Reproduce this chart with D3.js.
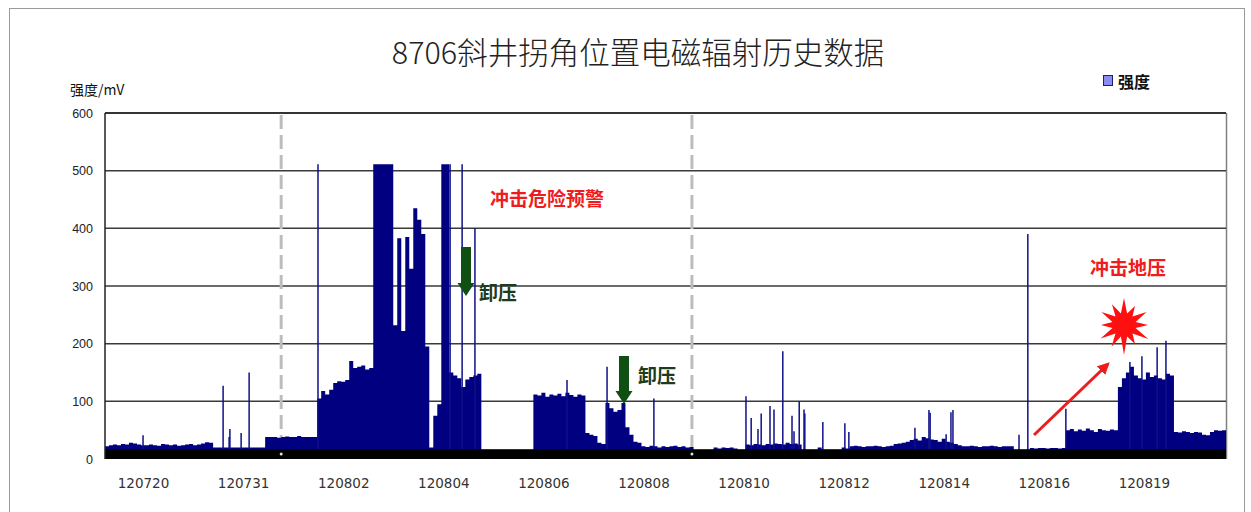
<!DOCTYPE html>
<html><head><meta charset="utf-8">
<script src="https://cdn.jsdelivr.net/npm/d3@7"></script>
<style>
html,body{margin:0;padding:0;background:#fff;}
svg{display:block;}
</style>
</head><body>
<svg id="chart" width="1251" height="512"></svg>
<script>
// ---- data ----
const title = "8706斜井拐角位置电磁辐射历史数据";
const seriesName = "强度";
const yTitle = "强度/mV";
const yTicks = [0, 100, 200, 300, 400, 500, 600];
const xLabels = ["120720","120731","120802","120804","120806","120808","120810","120812","120814","120816","120819"];
const xLabelIndex = [9.5, 34.5, 59.5, 84.5, 109.5, 134.5, 159.5, 184.5, 209.5, 234.5, 259.5];
const dividerIndex = [44, 146.6];
const baseBand = 17;
// intensity per sample (mV)
const intensity = [
  22,24,25,24,26,25,28,27,25,24,
  24,25,24,23,26,25,24,25,23,24,25,26,24,25,27,29,28,
  20,20,20,20,20,20,20,20,20,20,20,20,20,
  38,38,38,37,38,39,38,38,40,38,38,38,38,
  105,118,112,120,
  132,135,134,137,
  170,158,160,162,155,158,
  511,511,511,511,511,
  232,383,222,385,330,435,415,390,195,20,75,95,
  511,511,
  150,145,140,125,138,142,145,148,
  0,0,0,0,0,0,0,0,0,0,0,0,0,
  112,110,115,108,112,110,113,109,115,111,108,112,110,
  45,42,40,28,26,
  97,88,82,85,97,55,42,30,28,
  22,21,23,22,20,22,21,22,23,21,22,20,21,
  0,0,0,0,0,
  20,18,20,19,20,18,
  0,0,
  25,24,26,25,24,26,25,27,26,25,28,26,27,25,
  0,0,0,0,20,0,0,0,0,0,20,18,
  22,23,22,21,22,22,23,22,21,22,23,
  26,27,28,30,33,35,32,38,36,34,33,30,35,30,28,26,24,
  22,22,23,22,21,22,22,23,22,21,22,22,22,
  0,0,0,0,
  19,18,19,19,18,19,19,18,19,
  50,52,48,51,49,53,50,47,52,50,49,51,50,
  125,
  140,150,160,145,140,138,150,142,145,140,138,148,145,
  47,46,48,47,45,47,46,42,41,47,50,49,50
];
// isolated single-sample readings (sample index, mV)
const spikeIndex = [9.5,29.5,31.0,31.2,34.0,36.0,53.2,86.2,89.2,92.4,115.4,125.4,137.1,160.1,161.4,163.1,163.9,166.1,167.1,169.3,171.6,172.1,173.4,174.6,174.8,179.3,184.8,185.8,202.3,205.8,206.1,210.1,211.3,211.8,228.3,230.5,240.0,256.0,259.0,262.8,265.0];
const spikeValue = [41,127,38,52,45,150,511,511,511,400,137,160,105,109,71,52,79,92,86,187,75,48,100,86,79,64,62,47,54,85,80,43,81,85,42,390,87,168,178,194,205];

// ---- layout ----
const svg = d3.select("#chart");
const L = 105, R = 1226, T = 113, B = 459;
const x = d3.scaleLinear().domain([0, intensity.length]).range([L, R]);
const y = d3.scaleLinear().domain([0, 600]).range([B, T]);
const navy = "#000080";

// outer frame
svg.append("rect").attr("x", 9.5).attr("y", 8.5).attr("width", 1235).attr("height", 510)
  .attr("fill", "none").attr("stroke", "#9a9a9a").attr("stroke-width", 1);

// title
svg.append("text").attr("x", 638).attr("y", 64).attr("text-anchor", "middle")
  .attr("font-family", "'Noto Sans CJK SC', sans-serif").attr("font-size", 30.5).attr("font-weight", 300)
  .attr("fill", "#222").text(title);

// y title
svg.append("text").attr("x", 70).attr("y", 95)
  .attr("font-family", "'Noto Sans CJK SC', sans-serif").attr("font-size", 14)
  .attr("fill", "#111").text(yTitle);

// legend
svg.append("rect").attr("x", 1103.5).attr("y", 75.5).attr("width", 9).attr("height", 10)
  .attr("fill", "#8c8cf0").attr("stroke", "#1a1a80").attr("stroke-width", 1);
svg.append("text").attr("x", 1118).attr("y", 88)
  .attr("font-family", "'Noto Sans CJK SC', sans-serif").attr("font-size", 16).attr("font-weight", 700)
  .attr("fill", "#111").text(seriesName);

// plot border (right side)
svg.append("line").attr("x1", R + 0.5).attr("x2", R + 0.5).attr("y1", T).attr("y2", B)
  .attr("stroke", "#808080").attr("stroke-width", 1.5);

// grid
svg.append("g").selectAll("line").data(yTicks.filter(d => d > 0)).join("line")
  .attr("x1", L).attr("x2", R).attr("y1", d => y(d)).attr("y2", d => y(d))
  .attr("stroke", "#3a3a3a").attr("stroke-width", 1.5);

// dividers
svg.append("g").selectAll("line").data(dividerIndex).join("line")
  .attr("x1", d => x(d)).attr("x2", d => x(d)).attr("y1", T + 2).attr("y2", y(baseBand) + 2)
  .attr("stroke", "#bdbdbd").attr("stroke-width", 3).attr("stroke-dasharray", "14,6");

// bars as one stepped area (no seams)
const stepData = intensity.map((v, i) => [i, v]).concat([[intensity.length, intensity[intensity.length - 1]]]);
svg.append("path")
  .attr("d", d3.area().curve(d3.curveStepAfter).x(d => x(d[0])).y0(y(0)).y1(d => y(d[1]))(stepData))
  .attr("fill", navy);

// spikes
svg.append("g").selectAll("line").data(spikeIndex.map((p, k) => ({p, v: spikeValue[k]}))).join("line")
  .attr("x1", d => x(d.p)).attr("x2", d => x(d.p)).attr("y1", y(0)).attr("y2", d => y(d.v))
  .attr("stroke", "#10108a").attr("stroke-width", 1.5);

// base band
svg.append("rect").attr("x", L).attr("y", y(baseBand)).attr("width", R - L).attr("height", y(0) - y(baseBand))
  .attr("fill", "#000");
svg.append("g").selectAll("circle").data(dividerIndex).join("circle")
  .attr("cx", d => x(d)).attr("cy", y(baseBand / 2)).attr("r", 1.5).attr("fill", "#ddd");

// left axis line and top line
svg.append("line").attr("x1", L).attr("x2", L).attr("y1", T).attr("y2", B)
  .attr("stroke", "#222").attr("stroke-width", 1.5);
svg.append("line").attr("x1", L).attr("x2", R).attr("y1", T).attr("y2", T)
  .attr("stroke", "#222").attr("stroke-width", 1.5);

// y axis
const ya = svg.append("g").attr("transform", `translate(${L},0)`)
  .call(d3.axisLeft(y).tickValues(yTicks).tickSize(0).tickPadding(12));
ya.select(".domain").remove();
ya.selectAll("text").attr("font-family", "'Liberation Sans', Arial, sans-serif").attr("font-size", 12.5).attr("fill", "#222");

// x axis
const xa = svg.append("g").attr("transform", `translate(0,${B})`)
  .call(d3.axisBottom(x).tickValues(xLabelIndex).tickFormat((d, k) => xLabels[k]).tickSize(0).tickPadding(19));
xa.select(".domain").remove();
xa.selectAll("text").attr("font-family", "'DejaVu Sans', sans-serif").attr("font-size", 13.5).attr("fill", "#333");

// ---- annotations ----
const ann = svg.append("g").attr("font-family", "'Noto Sans CJK SC', sans-serif");
ann.append("text").attr("x", 490).attr("y", 206).attr("font-size", 19).attr("font-weight", 700)
  .attr("fill", "#ee1c1c").text("冲击危险预警");
ann.append("text").attr("x", 1090).attr("y", 275).attr("font-size", 19).attr("font-weight", 700)
  .attr("fill", "#ee1c1c").text("冲击地压");

function downArrow(cx, top, tip) {
  const hw = 5, hh = 8.5, headTop = tip - 13;
  ann.append("path").attr("d",
    `M${cx - hw},${top} L${cx + hw},${top} L${cx + hw},${headTop} L${cx + hh},${headTop} L${cx},${tip} L${cx - hh},${headTop} L${cx - hw},${headTop} Z`)
    .attr("fill", "#0f4f12");
}
downArrow(466, 247, 296);
downArrow(624, 356, 404);
ann.append("text").attr("x", 479).attr("y", 300).attr("font-size", 19).attr("font-weight", 700)
  .attr("fill", "#1d3b1d").text("卸压");
ann.append("text").attr("x", 638).attr("y", 383).attr("font-size", 19).attr("font-weight", 700)
  .attr("fill", "#1d3b1d").text("卸压");

// red arrow
svg.append("defs").append("marker").attr("id", "ah").attr("viewBox", "0 0 10 10")
  .attr("refX", 8).attr("refY", 5).attr("markerWidth", 4).attr("markerHeight", 4).attr("orient", "auto")
  .append("path").attr("d", "M0,0 L10,5 L0,10 Z").attr("fill", "#ee1c1c");
svg.append("line").attr("x1", 1034).attr("y1", 435).attr("x2", 1108).attr("y2", 364)
  .attr("stroke", "#ee1c1c").attr("stroke-width", 3).attr("marker-end", "url(#ah)");

// starburst
const outerR = [27, 22, 26, 24, 28, 22, 30, 25, 27, 23, 26, 24];
const pts = [];
outerR.forEach((r, k) => {
  const a1 = (k / outerR.length) * 2 * Math.PI - Math.PI / 2;
  const a2 = ((k + 0.5) / outerR.length) * 2 * Math.PI - Math.PI / 2;
  pts.push([1124 + r * Math.cos(a1), 325 + r * Math.sin(a1)]);
  pts.push([1124 + 12 * Math.cos(a2), 325 + 12 * Math.sin(a2)]);
});
svg.append("path").attr("d", d3.line()(pts) + "Z").attr("fill", "#ff1010");
</script>
</body></html>
